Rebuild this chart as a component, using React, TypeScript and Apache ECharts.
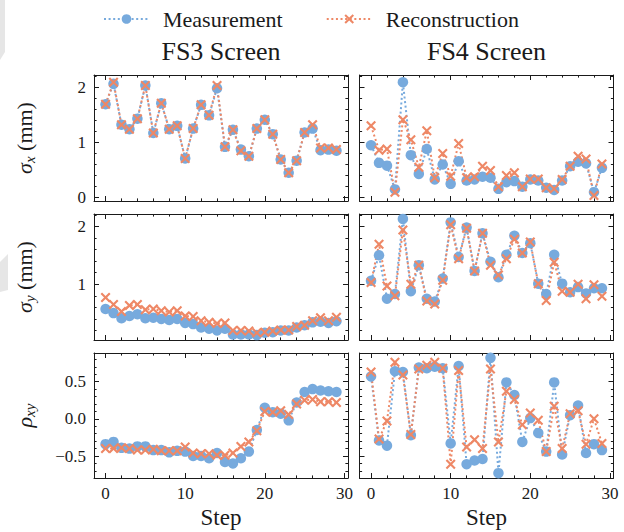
import React, { useEffect, useRef } from 'react';
import * as echarts from 'echarts';

const FONT = 'Liberation Serif';
const BLUE = '#77AADD';
const ORANGE = '#EE8866';
const INK = '#1a1a1a';

const steps = [0, 1, 2, 3, 4, 5, 6, 7, 8, 9, 10, 11, 12, 13, 14, 15, 16, 17, 18, 19, 20, 21, 22, 23, 24, 25, 26, 27, 28, 29];

const fs3SigmaXMeas = [1.69, 2.06, 1.32, 1.24, 1.43, 2.03, 1.17, 1.71, 1.24, 1.30, 0.71, 1.25, 1.68, 1.49, 1.98, 0.92, 1.23, 0.87, 0.75, 1.25, 1.41, 1.15, 0.69, 0.45, 0.67, 1.18, 1.25, 0.86, 0.87, 0.85];
const fs3SigmaXRec = [1.69, 2.09, 1.32, 1.24, 1.43, 2.03, 1.17, 1.71, 1.24, 1.30, 0.71, 1.25, 1.68, 1.49, 2.03, 0.92, 1.23, 0.85, 0.75, 1.25, 1.41, 1.15, 0.69, 0.45, 0.67, 1.18, 1.32, 0.90, 0.90, 0.87];
const fs4SigmaXMeas = [0.95, 0.63, 0.58, 0.15, 2.09, 0.77, 0.43, 0.88, 0.33, 0.60, 0.25, 0.66, 0.31, 0.33, 0.38, 0.36, 0.16, 0.28, 0.30, 0.20, 0.33, 0.31, 0.18, 0.14, 0.31, 0.57, 0.65, 0.62, 0.10, 0.54];
const fs4SigmaXRec = [1.30, 0.86, 0.88, 0.10, 1.41, 1.05, 0.55, 1.21, 0.36, 0.80, 0.39, 0.98, 0.36, 0.38, 0.57, 0.49, 0.20, 0.40, 0.45, 0.20, 0.34, 0.34, 0.18, 0.16, 0.33, 0.57, 0.75, 0.70, 0.04, 0.61];

const fs3SigmaYMeas = [0.57, 0.50, 0.41, 0.45, 0.48, 0.41, 0.42, 0.40, 0.38, 0.40, 0.33, 0.31, 0.25, 0.23, 0.20, 0.23, 0.13, 0.13, 0.13, 0.12, 0.16, 0.17, 0.20, 0.20, 0.25, 0.29, 0.34, 0.35, 0.33, 0.36];
const fs3SigmaYRec = [0.77, 0.65, 0.53, 0.63, 0.65, 0.56, 0.57, 0.54, 0.52, 0.54, 0.45, 0.44, 0.37, 0.34, 0.32, 0.33, 0.20, 0.20, 0.19, 0.16, 0.17, 0.19, 0.21, 0.21, 0.27, 0.29, 0.37, 0.42, 0.37, 0.43];
const fs4SigmaYMeas = [1.06, 1.50, 0.75, 0.83, 2.13, 0.88, 1.33, 0.75, 0.70, 1.10, 2.07, 1.47, 1.98, 1.23, 1.88, 1.39, 1.12, 1.51, 1.84, 1.54, 1.71, 1.01, 0.83, 1.51, 1.01, 0.86, 0.95, 0.84, 0.93, 0.93];
const fs4SigmaYRec = [1.03, 1.69, 0.97, 0.80, 1.94, 1.00, 1.33, 0.71, 0.66, 1.07, 2.03, 1.44, 1.97, 1.23, 1.88, 1.33, 1.16, 1.44, 1.78, 1.54, 1.73, 1.01, 0.72, 1.38, 0.88, 0.86, 1.00, 0.75, 0.99, 0.79];

const fs3RhoMeas = [-0.34, -0.31, -0.39, -0.40, -0.37, -0.37, -0.42, -0.42, -0.45, -0.43, -0.44, -0.50, -0.50, -0.53, -0.46, -0.58, -0.60, -0.53, -0.44, -0.15, 0.15, 0.09, 0.07, -0.02, 0.22, 0.36, 0.40, 0.38, 0.37, 0.36];
const fs3RhoRec = [-0.40, -0.40, -0.39, -0.40, -0.42, -0.42, -0.41, -0.43, -0.43, -0.43, -0.38, -0.46, -0.47, -0.47, -0.49, -0.49, -0.46, -0.37, -0.31, -0.16, 0.10, 0.09, 0.11, 0.06, 0.20, 0.25, 0.26, 0.23, 0.23, 0.22];
const fs4RhoMeas = [0.57, -0.29, -0.36, 0.64, 0.63, -0.22, 0.69, 0.68, 0.70, 0.68, -0.33, 0.71, -0.61, -0.56, -0.54, 0.82, -0.73, 0.49, 0.32, -0.31, 0.01, -0.19, -0.44, 0.49, -0.48, 0.05, 0.18, -0.46, -0.34, -0.42];
const fs4RhoRec = [0.63, -0.27, -0.03, 0.76, 0.59, -0.21, 0.67, 0.72, 0.76, 0.68, -0.61, 0.65, -0.38, -0.28, -0.40, 0.67, -0.31, 0.37, 0.26, -0.08, 0.08, -0.02, -0.44, 0.17, -0.40, 0.07, 0.11, -0.34, 0.00, -0.33];

const screenTitles = ['FS3 Screen', 'FS4 Screen'];
const seriesNames = ['Measurement', 'Reconstruction'];

const xRange = [-1.45, 30.45];
const xMajor = [0, 10, 20, 30];
const xMinor = [2, 4, 6, 8, 12, 14, 16, 18, 22, 24, 26, 28];

const rowRanges = [[-0.06, 2.22], [0.035, 2.215], [-0.795, 0.885]];
const rowMajor = [[0, 1, 2], [1, 2], [-0.5, 0, 0.5]];
const rowMinor = [
  [0.2, 0.4, 0.6, 0.8, 1.2, 1.4, 1.6, 1.8, 2.2],
  [0.2, 0.4, 0.6, 0.8, 1.2, 1.4, 1.6, 1.8, 2.2],
  [-0.7, -0.6, -0.4, -0.3, -0.2, -0.1, 0.1, 0.2, 0.3, 0.4, 0.6, 0.7, 0.8],
];

const panelData = [
  [[fs3SigmaXMeas, fs3SigmaXRec], [fs4SigmaXMeas, fs4SigmaXRec]],
  [[fs3SigmaYMeas, fs3SigmaYRec], [fs4SigmaYMeas, fs4SigmaYRec]],
  [[fs3RhoMeas, fs3RhoRec], [fs4RhoMeas, fs4RhoRec]],
];

// layout
const colLeft = [94, 359.5];
const colWidth = 254;
const rowTop = [75, 214, 353];
const rowHeight = [126, 126, 125];

const CROSS = 'path://M1.5,0L5,3.5L8.5,0L10,1.5L6.5,5L10,8.5L8.5,10L5,6.5L1.5,10L0,8.5L3.5,5L0,1.5Z';

function fmtY(row: number) {
  return (v: number) => {
    if (row === 2) return v.toFixed(1).replace('-', '\u2212');
    return String(Math.round(v));
  };
}

function buildOption() {
  const grid: any[] = [];
  const xAxis: any[] = [];
  const yAxis: any[] = [];
  const series: any[] = [];

  for (let r = 0; r < 3; r++) {
    for (let c = 0; c < 2; c++) {
      const p = r * 2 + c;
      for (let layer = 0; layer < 2; layer++) {
        const gi = p * 2 + layer;
        grid.push({ left: colLeft[c], top: rowTop[r], width: colWidth, height: rowHeight[r], containLabel: false });
        const major = layer === 0;
        const xt = major ? xMajor : xMinor;
        const yt = major ? rowMajor[r] : rowMinor[r];
        const len = major ? 5 : 2.6;
        ['bottom', 'top'].forEach((pos) => {
          const showLabel = major && pos === 'bottom' && r === 2;
          xAxis.push({
            type: 'value', gridIndex: gi, position: pos, min: xRange[0], max: xRange[1],
            axisLine: { show: major, onZero: false, lineStyle: { color: INK, width: 1 } },
            axisTick: { show: true, inside: true, length: len, customValues: xt, lineStyle: { color: INK, width: 1 } },
            axisLabel: showLabel
              ? { show: true, customValues: xMajor, margin: 7, fontSize: 17, color: INK, fontFamily: FONT }
              : { show: false },
            splitLine: { show: false },
          });
        });
        ['left', 'right'].forEach((pos) => {
          const showLabel = major && pos === 'left' && c === 0;
          yAxis.push({
            type: 'value', gridIndex: gi, position: pos, min: rowRanges[r][0], max: rowRanges[r][1],
            axisLine: { show: major, onZero: false, lineStyle: { color: INK, width: 1 } },
            axisTick: { show: true, inside: true, length: len, customValues: yt, lineStyle: { color: INK, width: 1 } },
            axisLabel: showLabel
              ? { show: true, customValues: rowMajor[r], margin: 8, fontSize: 17, color: INK, fontFamily: FONT, formatter: fmtY(r) }
              : { show: false },
            splitLine: { show: false },
          });
        });
      }
      const axisIdx = p * 2 * 2; // bottom x / left y of major grid
      const [meas, rec] = panelData[r][c];
      series.push({
        name: seriesNames[0], type: 'line', xAxisIndex: axisIdx, yAxisIndex: axisIdx,
        data: steps.map((s, i) => [s, meas[i]]),
        symbol: 'circle', symbolSize: 10.5, showSymbol: true,
        itemStyle: { color: BLUE },
        lineStyle: { color: BLUE, width: 2, type: [2, 2.6] },
        emphasis: { disabled: true },
      });
      series.push({
        name: seriesNames[1], type: 'line', xAxisIndex: axisIdx, yAxisIndex: axisIdx,
        data: steps.map((s, i) => [s, rec[i]]),
        symbol: CROSS, symbolSize: 10, showSymbol: true,
        itemStyle: { color: ORANGE },
        lineStyle: { color: ORANGE, width: 2, type: [2, 2.6] },
        emphasis: { disabled: true },
      });
    }
  }

  const rowCenters = rowTop.map((t, i) => t + rowHeight[i] / 2);
  const labelRich = {
    a: { fontFamily: FONT, fontSize: 22, fontStyle: 'italic', lineHeight: 27, fill: INK, color: INK },
    b: { fontFamily: FONT, fontSize: 15, fontStyle: 'italic', lineHeight: 15, verticalAlign: 'bottom', fill: INK, color: INK },
    c: { fontFamily: FONT, fontSize: 22, lineHeight: 27, fill: INK, color: INK },
  };
  const yNames = ['{a|σ}{b|x}{c| (mm)}', '{a|σ}{b|y}{c| (mm)}', '{a|ρ}{b|xy}'];

  const graphic: any[] = [
    { type: 'polygon', shape: { points: [[0, 0], [5, 0], [5, 52], [0, 60]] }, style: { fill: '#e6e6e6' }, silent: true },
    { type: 'polygon', shape: { points: [[0, 262], [8, 254], [8, 290], [0, 292]] }, style: { fill: '#e6e6e6' }, silent: true },
  ];
  screenTitles.forEach((t, c) => {
    graphic.push({
      type: 'text', x: colLeft[c] + colWidth / 2, y: 51.5,
      style: { text: t, font: '26px ' + FONT, fontFamily: FONT, fontSize: 26, fill: INK, align: 'center', verticalAlign: 'middle', textAlign: 'center', textVerticalAlign: 'middle' },
    });
    graphic.push({
      type: 'text', x: colLeft[c] + colWidth / 2, y: 517,
      style: { text: 'Step', font: '23px ' + FONT, fontFamily: FONT, fontSize: 23, fill: INK, align: 'center', verticalAlign: 'middle', textAlign: 'center', textVerticalAlign: 'middle' },
    });
  });
  yNames.forEach((t, r) => {
    graphic.push({
      type: 'text', x: 24, y: rowCenters[r], rotation: Math.PI / 2,
      style: { text: t, rich: labelRich, fontFamily: FONT, fontSize: 22, fill: INK, align: 'center', verticalAlign: 'middle', textAlign: 'center', textVerticalAlign: 'middle' },
    });
  });

  return {
    animation: false,
    backgroundColor: '#ffffff',
    textStyle: { fontFamily: FONT },
    legend: {
      data: seriesNames, left: 103, top: 8, padding: 0,
      itemWidth: 45, itemHeight: 12, itemGap: 43,
      textStyle: { fontFamily: FONT, fontSize: 22, color: INK, padding: [0, 0, 0, 9] },
      selectedMode: false,
    },
    grid, xAxis, yAxis, series, graphic,
  };
}

export default function App() {
  const ref = useRef<HTMLDivElement>(null);
  useEffect(() => {
    if (!ref.current) return;
    const chart = echarts.init(ref.current, undefined, { renderer: 'svg' });
    chart.setOption(buildOption() as any);
    return () => chart.dispose();
  }, []);
  return <div ref={ref} style={{ position: 'fixed', left: 0, top: 0, width: 624, height: 532, background: '#fff' }} />;
}
